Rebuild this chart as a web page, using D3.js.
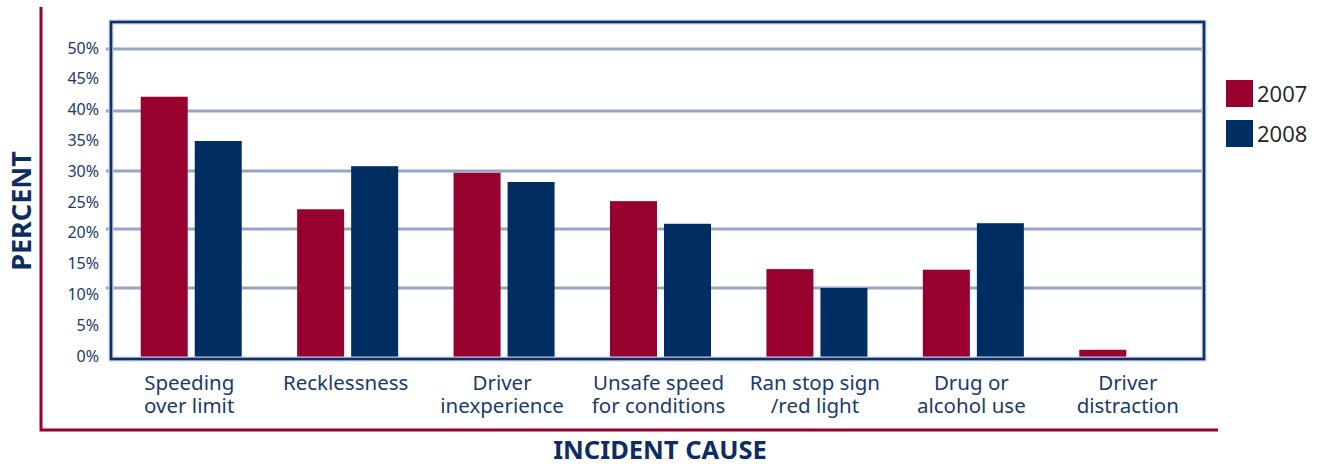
<!DOCTYPE html>
<html>
<head>
<meta charset="utf-8">
<title>Incident cause</title>
<style>
body { margin: 0; background: #fff; }
.ytick { font: 16px "Noto Sans", sans-serif; fill: #1b3a6d; }
.cat { font: 20.5px "Noto Sans", sans-serif; fill: #1b3a6d; }
.title { font-family: "Noto Sans", sans-serif; font-weight: bold; fill: #0d2c63; }
.legend text { font: 22px "Open Sans", sans-serif; fill: #222; }
</style>
</head>
<body>
<svg width="1322" height="466"></svg>
<script src="https://cdn.jsdelivr.net/npm/d3@7"></script>
<script>

var categories = [
  ["Speeding", "over limit"],
  ["Recklessness"],
  ["Driver", "inexperience"],
  ["Unsafe speed", "for conditions"],
  ["Ran stop sign", "/red light"],
  ["Drug or", "alcohol use"],
  ["Driver", "distraction"]
];
var years = ["2007", "2008"];
var values2007 = [42.3, 23.4, 29.7, 24.8, 13.2, 13.1, 1.3];
var values2008 = [35.0, 30.8, 28.1, 20.9, 10.0, 21.0, 0];
var yTicks = [0, 5, 10, 15, 20, 25, 30, 35, 40, 45, 50];
var gridTicks = [10, 20, 30, 40, 50];

var red = "#98002e", navy = "#002d62";
var color = d3.scaleOrdinal().domain(years).range([red, navy]);

var svg = d3.select("svg");

var keys = categories.map(function(c, i) { return i; });

var x = d3.scaleBand().domain(keys).range([113, 1208]);
var x1 = d3.scaleBand().domain(years).range([0, 101]).paddingInner(0.13);
// the printed chart's gridlines are not evenly spaced, so the value scale is piecewise
var y = d3.scaleLinear().domain([0, 10, 20, 30, 40, 50]).range([359, 288, 229, 171, 111, 49]);
// tick labels sit evenly spaced
var yLabel = d3.scaleLinear().domain([0, 50]).range([356, 48]);

var groupOff = (x.bandwidth() - 101) / 2;

// outer red frame
svg.append("path")
    .attr("d", "M41,7V430H1218")
    .attr("fill", "none")
    .attr("stroke", red)
    .attr("stroke-width", 3);

// gridlines
svg.append("g")
  .selectAll("line")
  .data(gridTicks)
  .enter().append("line")
    .attr("x1", 106)
    .attr("x2", 1205)
    .attr("y1", function(d) { return y(d); })
    .attr("y2", function(d) { return y(d); })
    .attr("stroke", "#98a6c6")
    .attr("stroke-width", 3);

// y labels
svg.append("g")
  .selectAll("text")
  .data(yTicks)
  .enter().append("text")
    .attr("class", "ytick")
    .attr("x", 99)
    .attr("y", function(d) { return yLabel(d); })
    .attr("dy", "0.35em")
    .attr("text-anchor", "end")
    .text(function(d) { return d + "%"; });

// bars
var rows = keys.map(function(i) {
  return { i: i, vals: [{ year: "2007", v: values2007[i] }, { year: "2008", v: values2008[i] }] };
});

svg.append("g")
  .selectAll("g")
  .data(rows)
  .enter().append("g")
    .attr("transform", function(d) { return "translate(" + (x(d.i) + groupOff) + ",0)"; })
  .selectAll("rect")
  .data(function(d) { return d.vals; })
  .enter().append("rect")
    .attr("x", function(d) { return x1(d.year); })
    .attr("width", x1.bandwidth())
    .attr("y", function(d) { return y(d.v); })
    .attr("height", function(d) { return y(0) - y(d.v); })
    .attr("fill", function(d) { return color(d.year); });

// plot box
svg.append("rect")
    .attr("x", 111).attr("y", 22)
    .attr("width", 1093).attr("height", 337)
    .attr("fill", "none")
    .attr("stroke", "#c9d2e4")
    .attr("stroke-width", 5);
svg.append("rect")
    .attr("x", 111).attr("y", 22)
    .attr("width", 1093).attr("height", 337)
    .attr("fill", "none")
    .attr("stroke", "#0d2f6b")
    .attr("stroke-width", 2.6);

// category labels, one text per line
var cat = svg.append("g")
  .selectAll("g")
  .data(keys)
  .enter().append("g");

cat.selectAll("text")
  .data(function(d) { return categories[d].map(function(t) { return { i: d, t: t }; }); })
  .enter().append("text")
    .attr("class", "cat")
    .attr("text-anchor", "middle")
    .attr("x", function(d) { return x(d.i) + x.bandwidth() / 2 - 2; })
    .attr("y", function(d, j) { return 390 + j * 23; })
    .text(function(d) { return d.t; });

// axis titles
svg.append("text")
    .attr("class", "title")
    .attr("font-size", 25.5)
    .attr("text-anchor", "middle")
    .attr("x", 660)
    .attr("y", 459)
    .text("INCIDENT CAUSE");

svg.append("text")
    .attr("class", "title")
    .attr("font-size", 27)
    .attr("text-anchor", "middle")
    .attr("transform", "translate(31,211) rotate(-90)")
    .text("PERCENT");

// legend
var legend = svg.append("g")
    .attr("class", "legend")
  .selectAll("g")
  .data(years)
  .enter().append("g")
    .attr("transform", function(d, i) { return "translate(1226," + (80 + i * 40) + ")"; });

legend.append("rect")
    .attr("width", 27)
    .attr("height", 27)
    .attr("fill", function(d) { return color(d); });

legend.append("text")
    .attr("x", 31)
    .attr("y", 22)
    .text(function(d) { return d; });

</script>
</body>
</html>
